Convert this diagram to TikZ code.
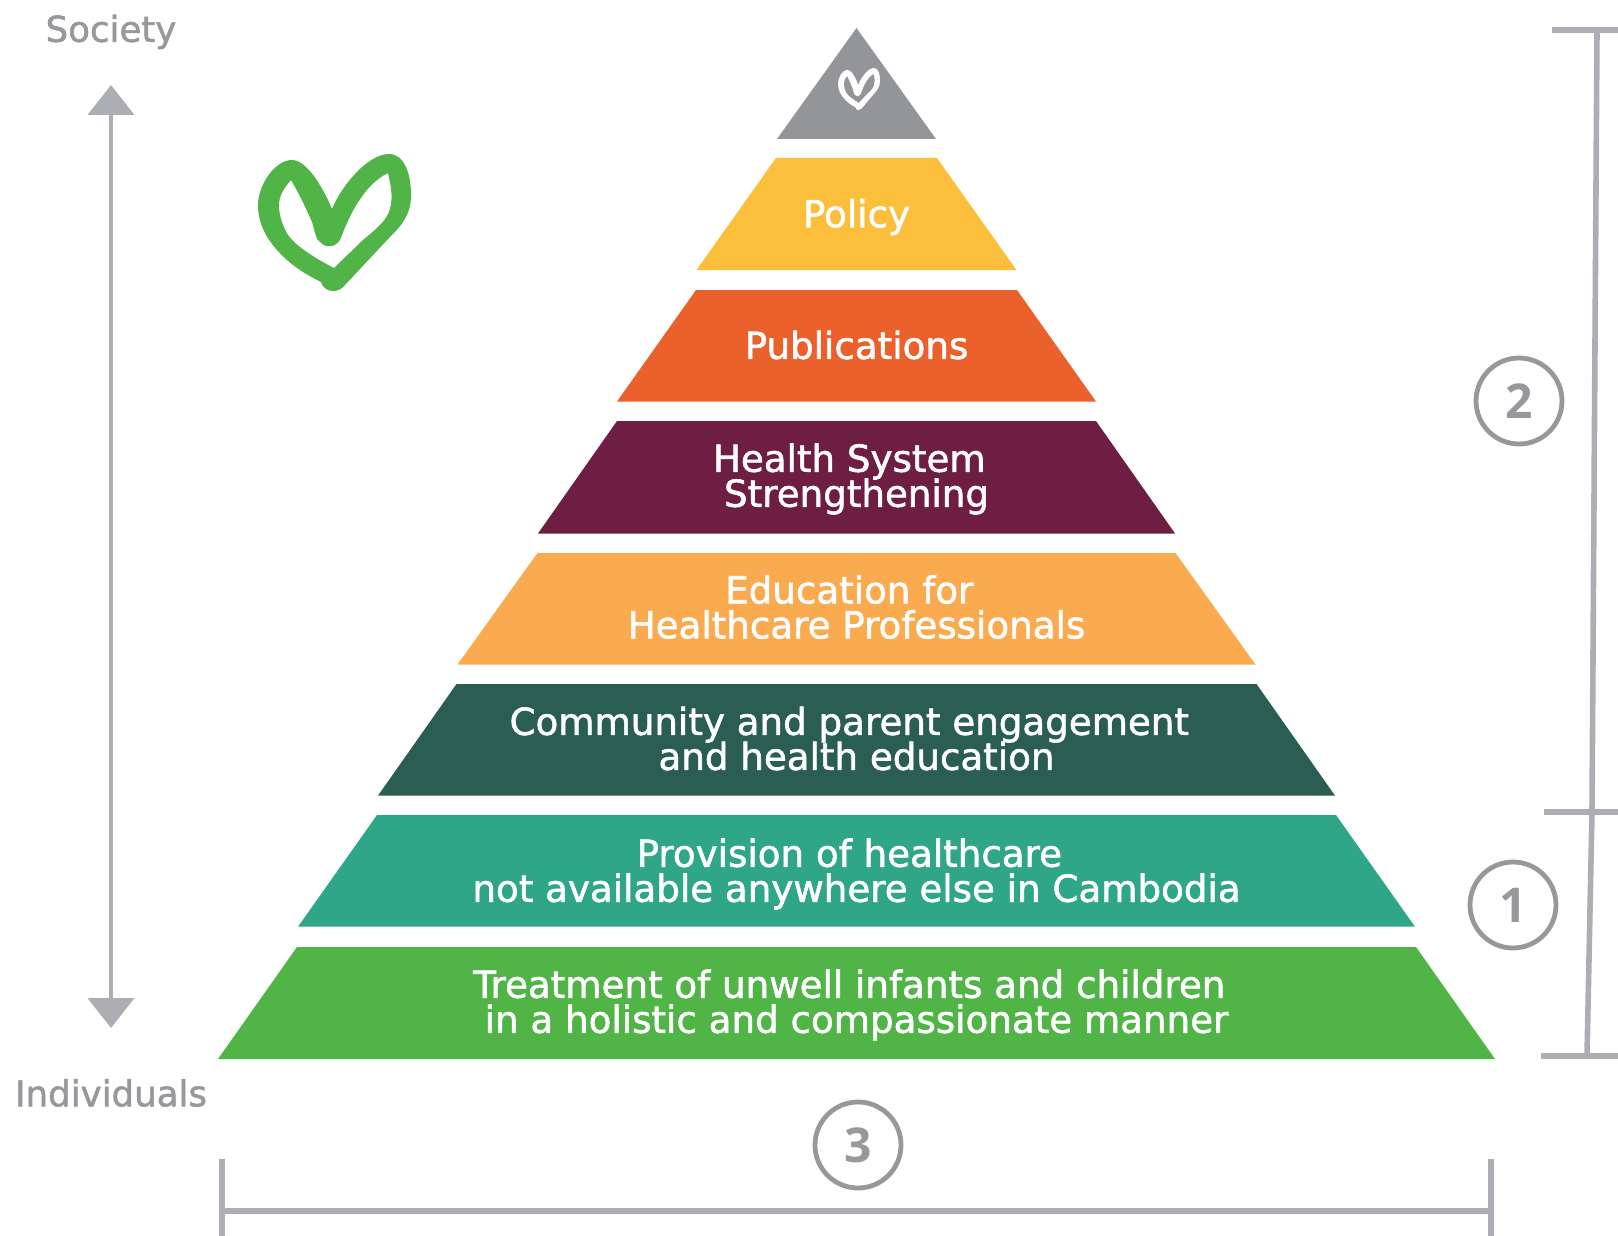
\documentclass[tikz,border=0pt]{standalone}
\usepackage{fontspec}
\setmainfont{Open Sans}
\newfontfamily\layerfont[WordSpace=1.2,FakeBold=1.5]{DejaVu Sans}
\newfontfamily\sidefont[FakeBold=1.5]{DejaVu Sans}
\usetikzlibrary{arrows.meta}
\definecolor{greyline}{HTML}{ADAEB3}
\definecolor{greytext}{HTML}{97989C}
\definecolor{greytop}{HTML}{939598}
\definecolor{heartgreen}{HTML}{50B447}
\definecolor{policyc}{HTML}{FBBF3B}
\definecolor{pubc}{HTML}{EA612C}
\definecolor{healthc}{HTML}{6E1D43}
\definecolor{educ}{HTML}{FAAB4F}
\definecolor{commc}{HTML}{2B5E52}
\definecolor{provc}{HTML}{30A688}
\definecolor{treatc}{HTML}{50B447}
\newcommand{\linepad}{\hspace*{7.2pt}}
\newcommand{\tightlines}{\setlength{\lineskiplimit}{-20pt}}
\newcommand{\heartpath}{
  (333,291) .. controls (327,291) and (323,288) .. (321,282) .. controls (305,274) and (296,268) .. (287,260)
  .. controls (268,243) and (258,225) .. (258,205) .. controls (258,185) and (275,160) .. (292,160)
  .. controls (306,160) and (322,185) .. (332,209) .. controls (342,185) and (368,154) .. (389,154)
  .. controls (405,154) and (411,175) .. (411,195) .. controls (411,215) and (402,225) .. (389,238)
  -- (345,285) .. controls (342,289) and (338,291) .. (333,291) -- cycle
  (334,268) .. controls (315,258) and (298,248) .. (288,235) .. controls (282,225) and (279,215) .. (279,205)
  .. controls (279,195) and (285,187) .. (291,180) .. controls (300,195) and (309,215) .. (312,222)
  .. controls (315,232) and (316,240) .. (320,242) .. controls (325,248) and (335,248) .. (340,240)
  .. controls (346,225) and (352,210) .. (361,198) .. controls (368,187) and (378,178) .. (388,173)
  .. controls (392,190) and (393,200) .. (389,212) .. controls (385,222) and (375,230) .. (363,240) -- cycle
}
\tikzset{
  layertext/.style={white,align=center,font=\layerfont\fontsize{18.6}{17.5}\selectfont\tightlines,inner sep=0pt},
  sidetext/.style={greytext,font=\sidefont\fontsize{17.8}{20}\selectfont,inner sep=0pt},
  numcircle/.style={circle,draw=greytext,line width=2.4pt,minimum size=43pt,inner sep=0pt,text=greytext,font=\fontsize{24}{26}\selectfont\bfseries},
  bar/.style={greyline,line width=2.8pt}
}
\begin{document}
\begin{tikzpicture}[x=0.5pt,y=-0.5pt]
    \useasboundingbox (0,0) rectangle (1618,1236);

    % layers: colour/top half width/bottom half width/top y/bottom y
    \foreach \col/\wt/\wb/\yt/\yb in {policyc/80.5/160/158/270,pubc/160.5/239.5/290/401.5,healthc/239.5/318.5/421/533.5,educ/319/399/553/664.5,commc/400/478.5/684/795.6,provc/479.5/558.5/815/926.7,treatc/559.5/638.5/947/1059}
      \fill[\col] (856.5-\wt,\yt) -- (856.5+\wt,\yt) -- (856.5+\wb,\yb) -- (856.5-\wb,\yb) -- cycle;
    \fill[greytop] (856.5,28) -- (936,139) -- (777,139) -- cycle;

    \node (policy)[layertext] at (856.5,217) {Policy};
    \node (pub)[layertext] at (856.5,345) {Publications};
    \node (health)[layertext] at (856.5,479) {Health System\linepad\\Strengthening};
    \node (edu)[layertext] at (856.5,607) {Education for\linepad\\Healthcare Professionals};
    \node (comm)[layertext] at (856.5,738.5) {Community and parent engagement\linepad\\and health education};
    \node (prov)[layertext] at (856.5,874) {Provision of healthcare\linepad\\not available anywhere else in Cambodia};
    \node (treat)[layertext] at (856.5,1005) {Treatment of unwell infants and children\linepad\\in a holistic and compassionate manner};

    % hearts
    \fill[heartgreen,even odd rule] \heartpath;
    \begin{scope}[shift={(383.5pt,-10.35pt)},x=0.1375pt,y=-0.1535pt]
      \fill[white,even odd rule] \heartpath;
    \end{scope}

    % society axis
    \node (society)[sidetext] at (111,32) {Society};
    \node (indiv)[sidetext] at (111,1093) {Individuals};
    \coordinate (axtop) at (111,85);
    \coordinate (axbot) at (111,1028);
    \draw[greyline,line width=2.4pt,{Triangle[length=15pt,width=23pt]}-{Triangle[length=15pt,width=23pt]}] (axtop) -- (axbot);

    % right bracket
    \coordinate (rt) at (1597,30);
    \coordinate (rm) at (1592,812);
    \coordinate (rb) at (1587,1056);
    \draw[bar] (rt) -- (rm) -- (rb);
    \draw[bar] (1552,30) -- (1618,30);
    \draw[bar] (1544,812) -- (1618,812);
    \draw[bar] (1541,1056) -- (1618,1056);
    \node (two)[numcircle] at (1519,401) {2};
    \node (one)[numcircle] at (1513,905) {1};

    % bottom bracket
    \node (three)[numcircle] at (858,1145) {3};
    \coordinate (bl) at (222,1211);
    \coordinate (br) at (1491,1211);
    \draw[bar] (bl) -- (br);
    \draw[greyline,line width=2.6pt] (222,1159) -- (222,1236);
    \draw[greyline,line width=2.6pt] (1491,1159) -- (1491,1236);
\end{tikzpicture}
\end{document}
